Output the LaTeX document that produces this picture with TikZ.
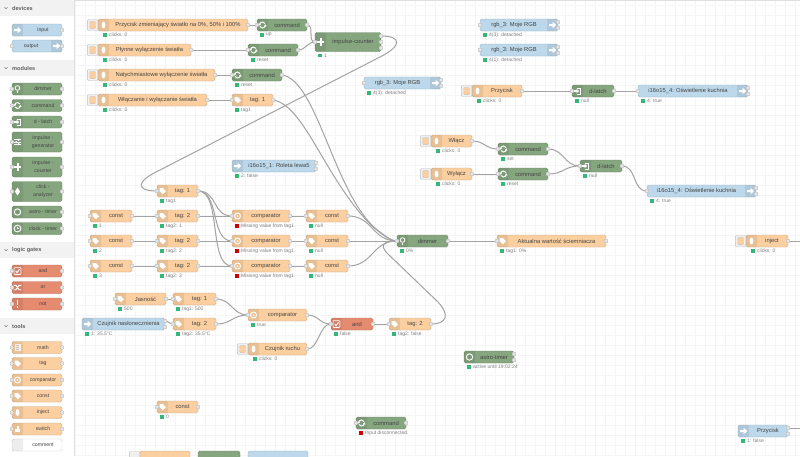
\documentclass[tikz,border=0pt]{standalone}
\usepackage{fontspec}
\setmainfont{Liberation Sans}
\usetikzlibrary{backgrounds}
\definecolor{org}{HTML}{FBCFA0}
\definecolor{grn}{HTML}{86A67F}
\definecolor{blu}{HTML}{BCD8EA}
\definecolor{rdd}{HTML}{E58B70}
\definecolor{wht}{HTML}{FFFFFF}
\definecolor{txt}{HTML}{444444}
\tikzset{
 x=1pt,y=-1pt,
 fbox/.style={rectangle,rounded corners=1.6pt,line width=.4pt,inner sep=0pt,outer sep=0pt},
 stripe/.style={fill=black,fill opacity=.07,rounded corners=1.2pt},
 port/.style={rectangle,rounded corners=1pt,fill=black!10,draw=black!30,line width=.3pt,minimum size=3.6pt,inner sep=0pt},
 lab/.style={font=\fontsize{5.8}{6.6}\selectfont,text=txt,inner sep=0pt,align=center},
 palab/.style={font=\fontsize{5.2}{8}\selectfont,text=txt,inner sep=0pt,align=center},
 stxt/.style={font=\fontsize{5}{5.5}\selectfont,text=black!50,inner sep=0pt,anchor=west},
 okdot/.style={rectangle,fill=teal!70!green!80!white,minimum size=3.6pt,inner sep=0pt},
 baddot/.style={rectangle,fill=red!80!black,minimum size=3.6pt,inner sep=0pt},
 wire/.style={draw=black!36,line width=1pt,line cap=round},
 gridl/.style={draw=black!4,line width=.35pt},
 head/.style={font=\bfseries\fontsize{5.6}{6}\selectfont,text=black!62,inner sep=0pt,anchor=west},
 hbar/.style={fill=black!5,draw=none},
 btnbox/.style={rectangle,rounded corners=1pt,fill=black!6,draw=black!25,line width=.3pt,inner sep=0pt},
 btnin/.style={rectangle,rounded corners=.8pt,fill=org,draw=black!30,line width=.2pt,minimum width=6pt,minimum height=7pt,inner sep=0pt},
 icw/.style={white,line width=.8pt},
}
% icons ---------------------------------------------------------------
\newcommand\icarrow{\fill[white] (-3.4,-1)--(.2,-1)--(.2,-3.2)--(3.6,0)--(.2,3.2)--(.2,1)--(-3.4,1)--cycle;}
\newcommand\icbulb{\fill[white] (0,0) ellipse (1.9 and 3.4);}
\newcommand\iclamp{\draw[icw] (0,-1) circle (2.3);\draw[icw] (-.9,2.2)--(.9,2.2) (-.6,3.4)--(.6,3.4);}
\newcommand\ictag{\fill[white] (-3,-3)--(.4,-3)--(3.4,.4)--(.4,3.2)--(-3,-.2)--cycle;}
\newcommand\iccycle{\draw[white,line width=1pt] (3,0) arc (0:150:3) (-3,0) arc (180:330:3);\fill[white] (-4.2,-1.4)--(-1.4,-1.4)--(-2.8,.7)--cycle;\fill[white] (4.2,1.4)--(1.4,1.4)--(2.8,-.7)--cycle;}
\newcommand\icplus{\fill[white] (-3.6,-1)rectangle(3.6,1);\fill[white] (-1,-3.6)rectangle(1,3.6);}
\newcommand\iclatch{\draw[icw] (-.5,-3)--(3,-3)--(3,3)--(-.5,3);\fill[white] (-3.6,-.8)--(-1,-.8)--(-1,-2.4)--(1.6,0)--(-1,2.4)--(-1,.8)--(-3.6,.8)--cycle;}
\newcommand\icslide{\draw[icw] (-3.4,-2.2)--(3.4,-2.2) (-3.4,0)--(3.4,0) (-3.4,2.2)--(3.4,2.2);\fill[white] (.4,-3.2)rectangle(1.6,-1.2) (-1.8,-1)rectangle(-.6,1) (.4,1.2)rectangle(1.6,3.2);}
\newcommand\icdiam{\fill[white] (0,-4)--(2.6,0)--(0,4)--(-2.6,0)--cycle;}
\newcommand\icring{\draw[white,line width=.9pt] (0,0) circle (3.2);}
\newcommand\iccomp{\draw[white,line width=.9pt] (0,0) circle (3);\fill[white] (0,0) circle (1);}
\newcommand\icclock{\draw[white,line width=.9pt] (0,0) circle (3.4);\draw[white,line width=.7pt] (0,-2)--(0,0)--(1.7,0);}
\newcommand\iccheck{\draw[white,line width=.7pt,rounded corners=.6pt] (-3.4,-3.4) rectangle (3.4,3.4);\draw[white,line width=.9pt] (-1.8,0)--(-.4,1.6)--(2,-1.8);}
\newcommand\icshuf{\draw[white,line width=.9pt] (-3.8,-2.2)--(-1.6,-2.2)--(1.6,2.2)--(3.8,2.2) (-3.8,2.2)--(-1.6,2.2)--(1.6,-2.2)--(3.8,-2.2);}
\newcommand\icnot{\fill[white] (-.9,-3.6) rectangle (.9,1); \fill[white] (-.9,2) rectangle (.9,3.7);}
\newcommand\icmath{\fill[white,fill opacity=.75] (-3,-3.6) rectangle (3,3.6);\draw[black!25,line width=.3pt] (-1.8,-2.2)--(1.8,-2.2) (-1.8,0)--(1.8,0) (-1.8,2)--(1.8,2);}
\newcommand\ichand{\fill[white] (-3,0) rectangle (2.6,3.2);\fill[white] (-.4,-3.4) rectangle (1,.2);}
\newcommand\putic[3]{\begin{scope}[shift={(#2,#3)}]\csname ic#1\endcsname\end{scope}}
% node pieces ---------------------------------------------------------
\newcommand\fbody[6]{\pgfmathsetmacro\ncx{(#2+#3)/2}\pgfmathsetmacro\nwid{#3-#2}%
 \node[fbox,fill=#6,draw=#6!80!black,minimum width=\nwid pt,minimum height=#5pt] (#1) at (\ncx,#4) {};}
\newcommand\lstripe[4]{\fill[stripe] (#1.north west) rectangle ([xshift=11pt]#1.south west);\pgfmathsetmacro\ix{#2+5.5}\putic{#4}{\ix}{#3}}
\newcommand\rstripe[4]{\fill[stripe] (#1.north east) rectangle ([xshift=-11pt]#1.south east);\pgfmathsetmacro\ix{#2-5.5}\putic{#4}{\ix}{#3}}
\newcommand\pin[1]{\node[port] (#1-i) at (#1.west) {};}
\newcommand\pout[1]{\node[port] (#1-o) at (#1.east) {};}
\newcommand\ptwo[1]{\node[port] (#1-o) at ([yshift=3pt]#1.east) {};\node[port] (#1-p) at ([yshift=-3pt]#1.east) {};}
\newcommand\labl[3]{\node[lab] (#1-t) at ([xshift=#2pt]#1.center) {#3};}
\newcommand\statl[4][okdot]{\node[#1] (#2-d) at ([xshift=#3pt,yshift=-4pt]#2.south west) {};\node[stxt] (#2-s) at ([xshift=2pt]#2-d.east) {#4};}
% standard node: [dot]{id}{x0}{x1}{y}{colour}{icon}{label}{status}
\newcommand\ND[8][okdot]{\fbody{#2}{#3}{#4}{#5}{12}{#6}\lstripe{#2}{#3}{#5}{#7}\pin{#2}\pout{#2}\labl{#2}{5}{#8}}
\newcommand\NDS[9][okdot]{\ND[#1]{#2}{#3}{#4}{#5}{#6}{#7}{#8}\statl[#1]{#2}{5}{#9}}
% inject with a button
\newcommand\BTN[5]{\fbody{#1}{#2}{#3}{#4}{12}{org}\lstripe{#1}{#2}{#4}{bulb}\pout{#1}\labl{#1}{5}{#5}%
 \node[btnbox,minimum width=10.5pt,minimum height=11pt,anchor=east] (#1-b) at (#1.west) {};%
 \node[btnin] (#1-c) at (#1-b.center) {};%
 \statl{#1}{7}{clicks: 0}}
% output: in-port, icon at right, two ports at right
\newcommand\OUTB[6]{\fbody{#1}{#2}{#3}{#4}{12}{blu}\rstripe{#1}{#3}{#4}{arrow}\pin{#1}\ptwo{#1}\labl{#1}{-5}{#5}\statl{#1}{5}{#6}}
% input: icon at left, two ports at right
\newcommand\INB[6]{\fbody{#1}{#2}{#3}{#4}{12}{blu}\lstripe{#1}{#2}{#4}{arrow}\ptwo{#1}\labl{#1}{5}{#5}\statl{#1}{5}{#6}}
% palette: {id}{y}{h}{colour}{icon}{label}
\newcommand\PAL[6]{\fbody{#1}{12}{62}{#2}{#3}{#4}\lstripe{#1}{12}{#2}{#5}\pin{#1}\pout{#1}\node[palab] (#1-t) at (43,#2) {#6};}
\newcommand\PALN[6]{\fbody{#1}{12}{62}{#2}{#3}{#4}\lstripe{#1}{12}{#2}{#5}\pout{#1}\node[palab] (#1-t) at (43,#2) {#6};}
% wire with horizontal tangents
\newcommand\wcv[3][25]{\draw[wire] (#2.center) .. controls +(#1,0) and +(-#1,0) .. (#3.center);}
\newcommand\wst[2]{\draw[wire] (#1.center) -- (#2.center);}
\begin{document}
\begin{tikzpicture}
\path[use as bounding box] (0,0) rectangle (800,456);
% ------------------ sidebar
\fill[white] (0,0) rectangle (74,456);
\draw[black!12,line width=.4pt] (74.5,0)--(74.5,456);
\foreach \hy/\hn/\htx in {0/ha/devices,60/hb/modules,242/hc/logic gates,318/hd/tools}{
  \fill[hbar] (0,\hy) rectangle (74,\hy+16);
  \draw[black!50,line width=.4pt] (4.5,\hy+7.2)--(6,\hy+8.8)--(7.5,\hy+7.2);
  \node[head] (\hn) at (12,\hy+8) {\htx};
}
\PALN{pinp}{30}{12}{blu}{arrow}{input}
\fbody{pout}{12}{62}{46}{12}{blu}\rstripe{pout}{62}{46}{arrow}\pin{pout}\pout{pout}\node[palab] (pout-t) at (31,46) {output};
\PAL{pdim}{89}{12}{grn}{lamp}{dimmer}
\PAL{pcmd}{105.5}{12}{grn}{cycle}{command}
\PAL{plat}{122}{12}{grn}{latch}{d - latch}
\PAL{pgen}{142}{20}{grn}{slide}{impulse -\\generator}
\PAL{pcnt}{167}{20}{grn}{plus}{impulse -\\counter}
\PAL{pclk}{191.5}{20}{grn}{diam}{click -\\analyzer}
\PALN{past}{212}{12}{grn}{ring}{astro - timer}
\PALN{pclt}{228.5}{12}{grn}{clock}{clock - timer}
\PAL{pand}{271}{12}{rdd}{check}{and}
\PAL{por}{287.5}{12}{rdd}{shuf}{or}
\PAL{pnot}{304}{12}{rdd}{not}{not}
\PAL{pmat}{347.5}{12}{org}{math}{math}
\PAL{ptag}{363.5}{12}{org}{tag}{tag}
\PAL{pcom}{380}{12}{org}{comp}{comparator}
\PAL{pcon}{396}{12}{org}{tag}{const}
\PAL{pinj}{412.5}{12}{org}{bulb}{inject}
\PAL{psw}{429}{12}{org}{hand}{switch}
\fbody{pcmt}{12}{62}{445}{12}{wht}\fill[stripe] (pcmt.north west) rectangle ([xshift=11pt]pcmt.south west);\node[palab] (pcmt-t) at (43,445) {comment};
% ------------------ canvas nodes
\BTN{a1}{98}{248}{25}{Przycisk zmieniający światło na 0\%, 50\% i 100\%}
\NDS{c1}{257}{307}{25}{grn}{cycle}{command}{up}
\BTN{a2}{98}{191}{50}{Płynne wyłączenie światła}
\NDS{c2}{248}{298}{50}{grn}{cycle}{command}{reset}
\BTN{a3}{98}{215}{75}{Natychmiastowe wyłączenie światła}
\NDS{c3}{232}{282}{75}{grn}{cycle}{command}{reset}
\BTN{a4}{98}{207}{100}{Włączanie i wyłączanie światła}
\NDS{t4}{232}{273}{100}{org}{tag}{tag: 1}{tag1}
% impulse counter
\fbody{ic}{315}{381}{42}{19}{grn}\lstripe{ic}{315}{42}{plus}\pin{ic}\labl{ic}{5}{impulse-counter}\statl{ic}{5}{1}
\node[port] (ic-o) at ([yshift=6pt]ic.east) {};
\node[port] (ic-p) at (ic.east) {};
\node[port] (ic-q) at ([yshift=-6pt]ic.east) {};
\OUTB{r1}{480}{558}{25}{rgb\_3: Moje RGB}{4(3): detached}
\OUTB{r2}{480}{558}{50}{rgb\_3: Moje RGB}{4(1): detached}
\OUTB{r3}{364}{441}{83}{rgb\_3: Moje RGB}{4(3): detached}
\BTN{pz}{472}{522}{91}{Przycisk}
\NDS{dl}{572}{614}{91}{grn}{latch}{d-latch}{null}
\OUTB{k1}{638}{748}{91}{i16o15\_4: Oświetlenie kuchnia}{4: true}
\BTN{on}{431}{472}{141}{Włącz}
\BTN{of}{431}{472}{174}{Wyłącz}
\NDS{cs}{498}{548}{149}{grn}{cycle}{command}{set}
\NDS{cr}{498}{548}{174}{grn}{cycle}{command}{reset}
\NDS{d2}{580}{622}{166}{grn}{latch}{d-latch}{null}
\OUTB{k2}{647}{756}{191}{i16o15\_4: Oświetlenie kuchnia}{4: true}
\INB{rol}{232}{316}{166}{i16o15\_1: Roleta lewa5}{2: false}
\NDS{tA}{157}{198}{191}{org}{tag}{tag: 1}{tag1}
\NDS{k1c}{90}{132}{216}{org}{tag}{const}{1}
\NDS{k2c}{90}{132}{241}{org}{tag}{const}{2}
\NDS{k3c}{90}{132}{266}{org}{tag}{const}{3}
\NDS{t1}{157}{198}{216}{org}{tag}{tag: 2}{tag2: 1}
\NDS{t2}{157}{198}{241}{org}{tag}{tag: 2}{tag2: 2}
\NDS{t3}{157}{198}{266}{org}{tag}{tag: 2}{tag2: 3}
\NDS[baddot]{m1}{232}{290}{216}{org}{comp}{comparator}{Missing value from tag1.}
\NDS[baddot]{m2}{232}{290}{241}{org}{comp}{comparator}{Missing value from tag1.}
\NDS[baddot]{m3}{232}{290}{266}{org}{comp}{comparator}{Missing value from tag1.}
\NDS{n1}{306}{348}{216}{org}{tag}{const}{null}
\NDS{n2}{306}{348}{241}{org}{tag}{const}{null}
\NDS{n3}{306}{348}{266}{org}{tag}{const}{null}
\NDS{dim}{397}{448}{241}{grn}{lamp}{dimmer}{0\%}
\fbody{akt}{497}{606}{241}{12}{org}\lstripe{akt}{497}{241}{tag}\pin{akt}\pout{akt}\labl{akt}{5}{Aktualna wartość ściemniacza}\statl{akt}{5}{tag1: 0\%}
\BTN{inj}{746}{788}{241}{inject}
\NDS{jas}{115}{166}{299}{org}{tag}{Jasność}{500}
\NDS{tJ}{173}{216}{299}{org}{tag}{tag: 1}{tag1: 500}
\INB{sun}{82}{165}{324}{Czujnik nasłonecznienia}{1: 35.5°C}
\NDS{tS}{173}{216}{324}{org}{tag}{tag: 2}{tag2: 35.5°C}
\NDS{cmp}{248}{307}{315}{org}{comp}{comparator}{true}
\BTN{mot}{248}{307}{349}{Czujnik ruchu}
\NDS{and}{331}{373}{324}{rdd}{check}{and}{false}
\NDS{tF}{389}{431}{324}{org}{tag}{tag: 2}{tag2: false}
\fbody{ast}{464}{514}{357}{12}{grn}\lstripe{ast}{464}{357}{ring}\ptwo{ast}\labl{ast}{5}{astro-timer}\statl{ast}{5}{active until 19:02:24}
\NDS{c0}{157}{198}{407}{org}{tag}{const}{0}
\NDS[baddot]{cd}{356}{406}{423}{grn}{cycle}{command}{Input disconnected.}
\INB{pb}{738}{788}{431}{Przycisk}{1: false}
% bottom row, cut by the edge of the picture
\fbody{bo}{140}{190}{457}{12}{org}\node[btnbox,minimum width=10.5pt,minimum height=11pt,anchor=east] (bo-b) at (bo.west) {};
\fbody{bg}{198}{240}{457}{12}{grn}
\fbody{bb}{248}{308}{457}{12}{blu}
\coordinate (e1) at (800,241);
\coordinate (e2) at (800,428);
% helpers for the long wires
\coordinate (h1) at (380,57);
\coordinate (h2) at (160,170);
\coordinate (h3) at (380,232);
\coordinate (h4) at (373,227);
\coordinate (h5) at (438,302);
\coordinate (h6) at (388,254);
% ------------------ grid and wires below the nodes
\begin{pgfonlayer}{background}
\fill[white] (0,0) rectangle (800,456);
\foreach \gx in {75,85,...,795}{\draw[gridl] (\gx,0)--(\gx,456);}
\foreach \gy in {5,15,...,455}{\draw[gridl] (75,\gy)--(800,\gy);}
\draw[black!12,line width=.5pt] (75,.3)--(800,.3);
\wst{a1-o}{c1-i}\wst{a2-o}{c2-i}\wst{a3-o}{c3-i}\wst{a4-o}{t4-i}
\wcv[8]{c1-o}{ic-i}\wcv[8]{c2-o}{ic-i}
\draw[wire] (ic-o.center) .. controls (402,36) and (402,46) .. (h1) -- (h2) .. controls (136,181) and (135,191) .. (tA-i.center);
\draw[wire] (c3-o.center) .. controls (318,80) and (335,200) .. (h3) .. controls (388,238) and (392,241) .. (dim-i.center);
\draw[wire] (t4-o.center) .. controls (305,105) and (325,180) .. (h4) .. controls (383,235) and (390,241) .. (dim-i.center);
\wcv{n1-o}{dim-i}\wcv{n3-o}{dim-i}\wst{n2-o}{dim-i}
\draw[wire] (tF-o.center) .. controls (447,324) and (450,315) .. (h5) -- (h6) .. controls (378,244) and (385,241) .. (dim-i.center);
\wcv[20]{tA-o}{m1-i}\wcv[22]{tA-o}{m2-i}\wcv[24]{tA-o}{m3-i}
\wst{k1c-o}{t1-i}\wst{k2c-o}{t2-i}\wst{k3c-o}{t3-i}
\wst{t1-o}{m1-i}\wst{t2-o}{m2-i}\wst{t3-o}{m3-i}
\wst{m1-o}{n1-i}\wst{m2-o}{n2-i}\wst{m3-o}{n3-i}
\wst{dim-o}{akt-i}
\wst{jas-o}{tJ-i}\wcv[4]{sun-o}{tS-i}
\wcv[16]{tJ-o}{cmp-i}\wcv[16]{tS-o}{cmp-i}
\wcv[12]{cmp-o}{and-i}\wcv[12]{mot-o}{and-i}\wst{and-o}{tF-i}
\wst{pz-o}{dl-i}\wst{dl-o}{k1-i}
\wcv[13]{on-o}{cs-i}\wst{of-o}{cr-i}
\wcv[16]{cs-o}{d2-i}\wcv[16]{cr-o}{d2-i}\wcv[15]{d2-o}{k2-i}
\wst{inj-o}{e1}\wst{pb-o}{e2}
\end{pgfonlayer}
\end{tikzpicture}
\end{document}
